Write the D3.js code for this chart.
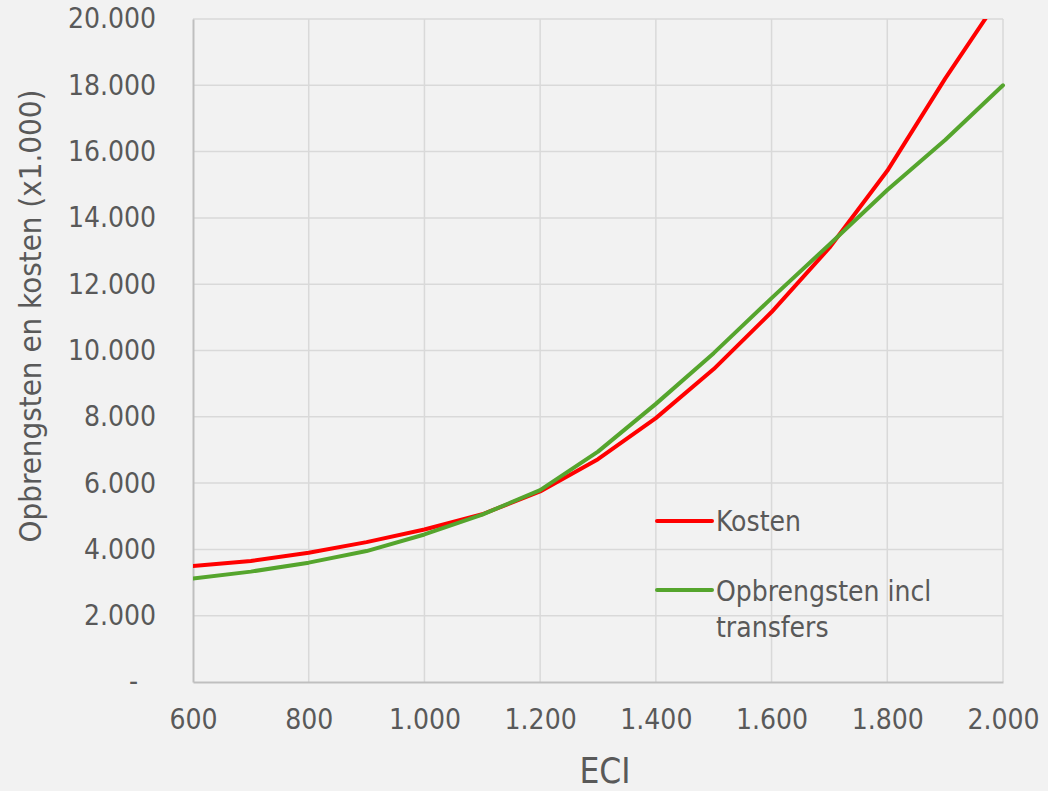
<!DOCTYPE html>
<html>
<head>
<meta charset="utf-8">
<script src="https://cdn.jsdelivr.net/npm/d3@7"></script>
<style>
  body { margin: 0; background: #f2f2f2; }
  text { font-family: "DejaVu Sans Condensed", "DejaVu Sans", sans-serif; fill: #595959; }
</style>
</head>
<body>
<svg id="chart" width="1048" height="791"></svg>
<script>
// data
var eci = [600, 700, 800, 900, 1000, 1100, 1200, 1300, 1400, 1500, 1600, 1700, 1800, 1900, 2000];
var kosten = [3500, 3650, 3900, 4220, 4600, 5060, 5750, 6720, 7960, 9440, 11160, 13100, 15420, 18200, 20800];
var opbrengsten = [3120, 3330, 3600, 3950, 4450, 5050, 5790, 6950, 8390, 9920, 11580, 13200, 14840, 16350, 18000];
var xTicks = [600, 800, 1000, 1200, 1400, 1600, 1800, 2000];
var yTicks = [0, 2000, 4000, 6000, 8000, 10000, 12000, 14000, 16000, 18000, 20000];

var mLeft = 193, mRight = 1003, mTop = 19, mBottom = 682;
var svg = d3.select("#chart");

var x = d3.scaleLinear().domain([600, 2000]).range([mLeft, mRight]);
var y = d3.scaleLinear().domain([0, 20000]).range([mBottom, mTop]);

var fmt = function(v) {
  if (v === 0) return "-";
  return d3.format(",")(v).replace(/,/g, ".");
};

// gridlines
svg.append("g").selectAll("line")
  .data(yTicks.slice(1))
  .enter().append("line")
  .attr("x1", mLeft).attr("x2", mRight)
  .attr("y1", function(d) { return y(d); }).attr("y2", function(d) { return y(d); })
  .attr("stroke", "#d9d9d9").attr("stroke-width", 1.5);

svg.append("g").selectAll("line")
  .data(xTicks.slice(1))
  .enter().append("line")
  .attr("x1", function(d) { return x(d); }).attr("x2", function(d) { return x(d); })
  .attr("y1", mTop).attr("y2", mBottom)
  .attr("stroke", "#d9d9d9").attr("stroke-width", 1.5);

// axes
var yAxis = svg.append("g")
  .attr("transform", "translate(" + mLeft + ",0)")
  .call(d3.axisLeft(y).tickValues(yTicks).tickFormat(fmt).tickSize(0).tickPadding(37));
yAxis.select(".domain").attr("stroke", "#bfbfbf").attr("stroke-width", 2);
yAxis.selectAll("text").style("font-size", "28px").attr("fill", "#595959")
  .style("font-family", "'DejaVu Sans Condensed', 'DejaVu Sans', sans-serif");
// excel puts the zero dash a bit further left
yAxis.selectAll("text").filter(function(d) { return d === 0; }).attr("dx", -18);

var xAxis = svg.append("g")
  .attr("transform", "translate(0," + mBottom + ")")
  .call(d3.axisBottom(x).tickValues(xTicks).tickFormat(fmt).tickSize(0).tickPadding(27));
xAxis.select(".domain").attr("stroke", "#bfbfbf").attr("stroke-width", 2);
xAxis.selectAll("text").style("font-size", "28px").attr("fill", "#595959")
  .style("font-family", "'DejaVu Sans Condensed', 'DejaVu Sans', sans-serif");

// axis titles
svg.append("text")
  .attr("x", 605).attr("y", 783)
  .attr("text-anchor", "middle")
  .style("font-size", "35px")
  .text("ECI");

svg.append("text")
  .attr("transform", "translate(41,316) rotate(-90)")
  .attr("text-anchor", "middle")
  .style("font-size", "31px")
  .text("Opbrengsten en kosten (x1.000)");

// lines
svg.append("clipPath").attr("id", "plot")
  .append("rect").attr("x", mLeft).attr("y", mTop).attr("width", mRight - mLeft + 4).attr("height", mBottom - mTop);

var line = d3.line()
  .x(function(d, i) { return x(eci[i]); })
  .y(function(d) { return y(d); });

var series = [
  { name: "Kosten", values: kosten, color: "#ff0000" },
  { name: "Opbrengsten incl transfers", values: opbrengsten, color: "#55a52d" }
];

svg.append("g").attr("clip-path", "url(#plot)")
  .selectAll("path")
  .data(series)
  .enter().append("path")
  .attr("d", function(d) { return line(d.values); })
  .attr("fill", "none")
  .attr("stroke", function(d) { return d.color; })
  .attr("stroke-width", 4)
  .attr("stroke-linejoin", "round")
  .attr("stroke-linecap", "round");

// legend
var legend = svg.append("g");
legend.append("line").attr("x1", 657).attr("x2", 712).attr("y1", 521).attr("y2", 521)
  .attr("stroke", series[0].color).attr("stroke-width", 4).attr("stroke-linecap", "round");
legend.append("text").attr("x", 716).attr("y", 531).style("font-size", "28px").text("Kosten");
legend.append("line").attr("x1", 657).attr("x2", 712).attr("y1", 590).attr("y2", 590)
  .attr("stroke", series[1].color).attr("stroke-width", 4).attr("stroke-linecap", "round");
legend.append("text").attr("x", 716).attr("y", 601).style("font-size", "28px").text("Opbrengsten incl");
legend.append("text").attr("x", 716).attr("y", 637).style("font-size", "28px").text("transfers");
</script>
</body>
</html>
